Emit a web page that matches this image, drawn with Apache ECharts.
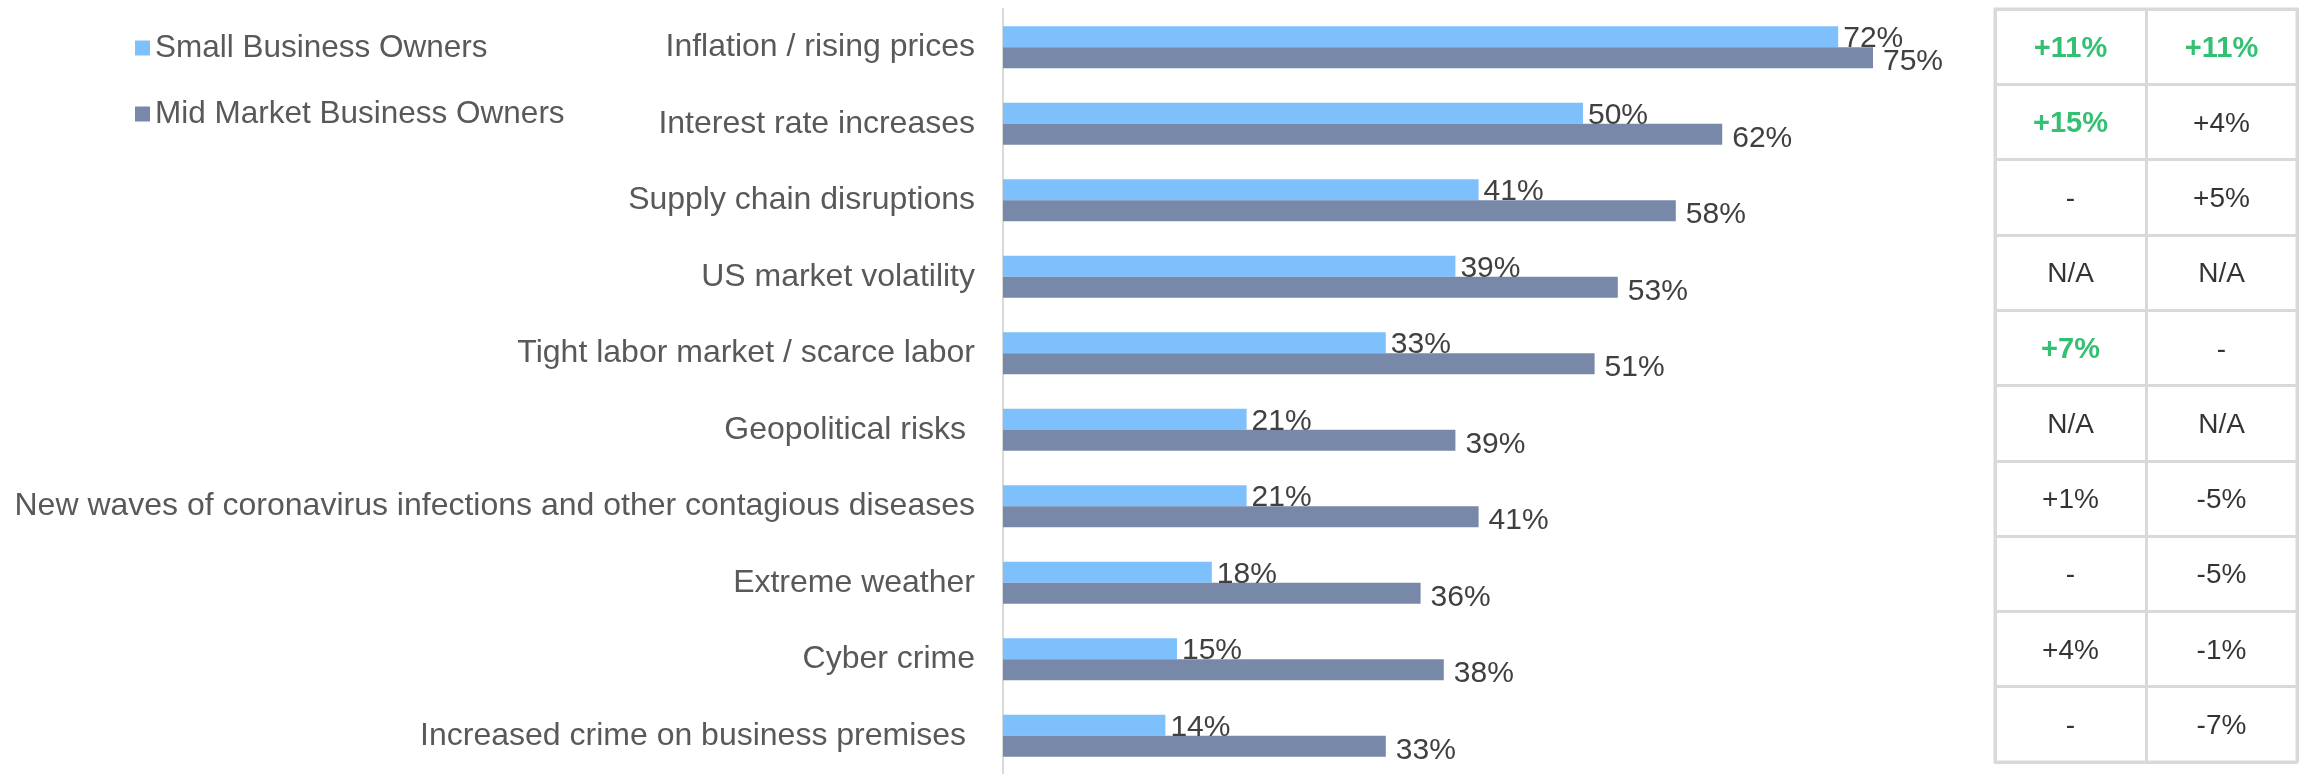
<!DOCTYPE html>
<html>
<head>
<meta charset="utf-8">
<script src="https://cdn.jsdelivr.net/npm/echarts@6/dist/echarts.min.js"></script>
<style>
  html, body { margin: 0; padding: 0; background: #fff; }
  #chart { width: 2300px; height: 774px; }
</style>
</head>
<body>
<div id="chart"></div>
<script>
  // categories, top to bottom
  var categories = [
    'Inflation / rising prices',
    'Interest rate increases',
    'Supply chain disruptions',
    'US market volatility',
    'Tight labor market / scarce labor',
    'Geopolitical risks ',
    'New waves of coronavirus infections and other contagious diseases',
    'Extreme weather',
    'Cyber crime',
    'Increased crime on business premises '
  ];
  var smallOwners = [72, 50, 41, 39, 33, 21, 21, 18, 15, 14];
  var midOwners = [75, 62, 58, 53, 51, 39, 41, 36, 38, 33];

  // change columns on the right
  var smallChange = ['+11%', '+15%', '-', 'N/A', '+7%', 'N/A', '+1%', '-', '+4%', '-'];
  var midChange = ['+11%', '+4%', '+5%', 'N/A', '-', 'N/A', '-5%', '-5%', '-1%', '-7%'];
  var smallHighlight = [1, 1, 0, 0, 1, 0, 0, 0, 0, 0];
  var midHighlight = [1, 0, 0, 0, 0, 0, 0, 0, 0, 0];
  var tableCols = ['small', 'mid'];

  var font = 'Arial, "Liberation Sans", sans-serif';

  function cellData(col, texts, marks) {
    return texts.map(function (t, i) {
      return {
        value: [col, categories[i]],
        label: {
          formatter: t,
          color: marks[i] ? '#00b050' : '#000',
          fontWeight: marks[i] ? 'bold' : 'normal',
          fontSize: marks[i] ? 29 : 28
        }
      };
    });
  }

  var myChart = echarts.init(document.getElementById('chart'));
  myChart.setOption({
    animation: false,
    legend: {
      orient: 'vertical',
      left: 130,
      top: 27,
      itemWidth: 15,
      itemHeight: 15,
      itemGap: 34,
      icon: 'rect',
      textStyle: { fontFamily: font, fontSize: 31.5, color: '#595959' },
      data: ['Small Business Owners', 'Mid Market Business Owners']
    },
    grid: [
      { left: 1003, top: 9, bottom: 0, width: 1160, outerBoundsMode: 'none' },
      {
        left: 1995, top: 9, width: 302, height: 753, outerBoundsMode: 'none',
        show: true, borderColor: '#d9d9d9', borderWidth: 3
      }
    ],
    xAxis: [
      { type: 'value', min: 0, max: 100, show: false },
      {
        type: 'category', gridIndex: 1, data: tableCols,
        axisLine: { show: false }, axisTick: { show: false }, axisLabel: { show: false },
        splitLine: { show: true, lineStyle: { color: '#d9d9d9', width: 3 } }
      }
    ],
    yAxis: [
      {
        type: 'category', inverse: true, data: categories,
        axisLine: { lineStyle: { color: '#d9d9d9', width: 2 } },
        axisTick: { length: 6, lineStyle: { color: '#d9d9d9', width: 2 } },
        axisLabel: { margin: 28, fontFamily: font, fontSize: 32, color: '#595959' }
      },
      {
        type: 'category', gridIndex: 1, inverse: true, data: categories,
        axisLine: { show: false }, axisTick: { show: false }, axisLabel: { show: false },
        splitLine: { show: true, lineStyle: { color: '#d9d9d9', width: 3 } }
      }
    ],
    series: [
      {
        name: 'Small Business Owners',
        type: 'bar',
        barWidth: 21,
        barGap: '0%',
        itemStyle: { color: '#7dc0fb' },
        label: {
          show: true, position: 'right', distance: 5, offset: [0, 2],
          formatter: '{c}%', fontFamily: font, fontSize: 30, color: '#404040'
        },
        data: smallOwners
      },
      {
        name: 'Mid Market Business Owners',
        type: 'bar',
        barWidth: 21,
        itemStyle: { color: '#7788a8' },
        label: {
          show: true, position: 'right', distance: 10, offset: [0, 4],
          formatter: '{c}%', fontFamily: font, fontSize: 30, color: '#404040'
        },
        data: midOwners
      },
      {
        type: 'scatter',
        xAxisIndex: 1,
        yAxisIndex: 1,
        symbolSize: 1,
        itemStyle: { color: 'rgba(0,0,0,0)' },
        label: { show: true, position: 'inside', offset: [0, 2], fontFamily: font, fontSize: 28 },
        data: cellData('small', smallChange, smallHighlight).concat(cellData('mid', midChange, midHighlight))
      }
    ]
  });
</script>
</body>
</html>
